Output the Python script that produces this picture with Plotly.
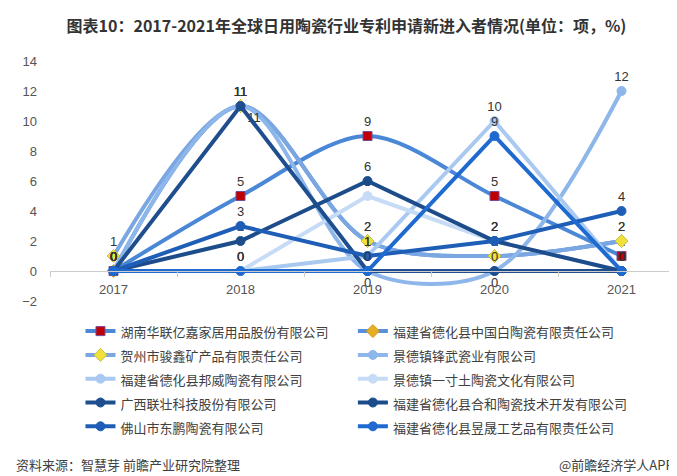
import plotly.graph_objects as go

years = ["2017", "2018", "2019", "2020", "2021"]

names = [
    "湖南华联亿嘉家居用品股份有限公司",
    "福建省德化县中国白陶瓷有限责任公司",
    "贺州市骏鑫矿产品有限责任公司",
    "景德镇锋武瓷业有限公司",
    "福建省德化县邦威陶瓷有限公司",
    "景德镇一寸土陶瓷文化有限公司",
    "广西联壮科技股份有限公司",
    "福建省德化县合和陶瓷技术开发有限公司",
    "佛山市东鹏陶瓷有限公司",
    "福建省德化县昱晟工艺品有限责任公司",
]

hunan_huelian = [0, 5, 9, 5, 1]
dehua_zhongguobai = [0, 11, 2, 1, 2]
hezhou_junxin = [1, 11, 2, 1, 2]
jdz_fengwu = [0, 11, 0, 0, 12]
dehua_bangwei = [0, 0, 1, 10, 0]
jdz_yicuntu = [0, 0, 5, 2, 0]
guangxi_lianzhuang = [0, 11, 0, 0, 0]
dehua_hehe = [0, 2, 6, 2, 0]
foshan_dongpeng = [0, 3, 1, 2, 4]
dehua_yusheng = [0, 0, 0, 9, 0]

values = [hunan_huelian, dehua_zhongguobai, hezhou_junxin, jdz_fengwu, dehua_bangwei,
          jdz_yicuntu, guangxi_lianzhuang, dehua_hehe, foshan_dongpeng, dehua_yusheng]

line_colors = ["#4A87D6", "#5A90DA", "#7AA6E2", "#8DB6EA", "#A9C9F1",
               "#C6DCF6", "#1F4E8E", "#1D4C8A", "#1F5EB6", "#1E6AD0"]
smooth = [True, True, True, True, False, False, False, False, False, False]
symbols = ["square", "diamond", "diamond", "circle", "circle",
           "circle", "circle", "circle", "circle", "circle"]
marker_fill = ["#C00000", "#E6AE22", "#EFE03C", None, None, None, None, None, None, None]
marker_edge = ["#7A4A9A", "#D49A1A", "#C8C040", None, None, None, None, None, None, None]

label_pos = {3: ["top center", "bottom right", "bottom center", "bottom center", "top center"]}

fig = go.Figure()
for i, (nm, vals) in enumerate(zip(names, values)):
    fill = marker_fill[i] or line_colors[i]
    edge = marker_edge[i] or line_colors[i]
    fig.add_trace(go.Scatter(
        x=years, y=vals,
        name='<span style="font-size:13px">' + nm + '</span>',
        legend="legend" if i % 2 == 0 else "legend2",
        mode="lines+markers+text",
        text=[str(v) for v in vals],
        textposition=label_pos.get(i, "top center"),
        textfont=dict(size=13, color="#333333", family="Liberation Sans, Arial, sans-serif"),
        line=dict(color=line_colors[i], width=4,
                  shape="spline" if smooth[i] else "linear", smoothing=0.9),
        marker=dict(symbol=symbols[i], size=9 if symbols[i] != "diamond" else 10,
                    color=fill, line=dict(color=edge, width=1)),
        cliponaxis=False,
    ))

legend_common = dict(
    orientation="v", xanchor="left", yanchor="top", y=-0.055,
    font=dict(size=16, color="#404040", family="Noto Sans CJK SC, sans-serif"),
    itemwidth=30, bgcolor="rgba(0,0,0,0)",
)

fig.update_layout(
    width=677, height=476,
    margin=dict(l=42, r=0, t=53, b=183, autoexpand=False),
    paper_bgcolor="white", plot_bgcolor="white",
    font=dict(family="Noto Sans CJK SC, sans-serif", color="#333333"),
    title=dict(
        text="<b>图表10：2017-2021年全球日用陶瓷行业专利申请新进入者情况(单位：项，%)</b>",
        x=0.5, xref="container", xanchor="center",
        y=1 - 18 / 476, yref="container", yanchor="middle",
        font=dict(size=16, color="#333333", family="Noto Sans CJK SC, sans-serif"),
    ),
    xaxis=dict(
        type="category", range=[-0.5, 4.5],
        tickson="boundaries", ticks="outside", ticklen=5, tickcolor="#CCCCCC",
        showline=True, linecolor="#CCCCCC", linewidth=1,
        anchor="free", position=0.125,
        showgrid=False, zeroline=False, ticklabelstandoff=6,
        tickfont=dict(size=13, color="#555555", family="Liberation Sans, Arial, sans-serif"),
    ),
    yaxis=dict(
        range=[-2, 14], dtick=2, showgrid=False, zeroline=False, showline=False,
        ticklabelstandoff=12,
        tickfont=dict(size=13, color="#555555", family="Liberation Sans, Arial, sans-serif"),
    ),
    legend=dict(x=0.048, **legend_common),
    legend2=dict(x=0.477, **legend_common),
    showlegend=True,
)

fig.add_annotation(
    text="资料来源：智慧芽 前瞻产业研究院整理",
    xref="paper", yref="paper", x=(6 - 42) / 635, y=1 - (456 - 53) / 240,
    xanchor="left", yanchor="middle", showarrow=False,
    font=dict(size=13, color="#404040", family="Noto Sans CJK SC, sans-serif"),
)
fig.add_annotation(
    text="@前瞻经济学人APP",
    xref="paper", yref="paper", x=1 - 9 / 635, y=1 - (456 - 53) / 240,
    xanchor="right", yanchor="middle", showarrow=False,
    font=dict(size=13, color="#404040", family="Noto Sans CJK SC, sans-serif"),
)

fig.write_html("out.html")
